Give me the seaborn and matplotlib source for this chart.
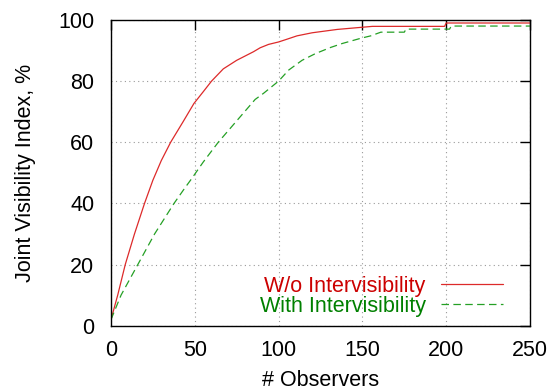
import matplotlib
matplotlib.use("Agg")
import matplotlib.pyplot as plt
import numpy as np
import pandas as pd
import seaborn as sns

# observers vs. joint visibility index (%)
wo_x = [0, 4, 8.5, 14, 20, 25, 30, 35.6, 43, 49.5, 55, 60, 67, 75, 80, 85,
        89, 94, 100, 105, 111, 120, 135, 156, 199, 200, 250]
wo_y = [2, 10, 20, 30, 40, 47.6, 54, 60, 66.7, 72.7, 76.5, 80, 84, 86.8, 88.2, 89.6,
        90.9, 92, 92.8, 93.7, 94.8, 95.8, 96.9, 97.9, 97.9, 99, 99]

with_x = [0, 6, 16, 26, 37.6, 44, 48, 55, 64, 75, 86, 91, 100, 106, 114, 122,
          131, 138, 149, 155, 161, 175, 176, 202, 203, 250]
with_y = [2, 10, 20, 30, 40, 45, 48, 53.5, 60, 67, 74, 76, 80, 83.6, 86.8, 89,
          91, 92.3, 94, 94.8, 96, 96, 97, 97, 98, 98]

x_ticks = [0, 50, 100, 150, 200, 250]
y_ticks = [0, 20, 40, 60, 80, 100]

sns.set_theme(style="white")
plt.rcParams['font.family'] = ['Liberation Sans', 'DejaVu Sans']
plt.rcParams['text.color'] = 'black'
plt.rcParams['axes.labelcolor'] = 'black'

df_wo = pd.DataFrame({'obs': wo_x, 'jvi': wo_y})
df_with = pd.DataFrame({'obs': with_x, 'jvi': with_y})

fig = plt.figure(figsize=(5.55, 3.91), dpi=100)
ax = fig.add_axes([0.2, 0.167, 0.755, 0.782])

red_line, red_text = '#dd2a2a', '#cc0000'
green_line, green_text = '#25a025', '#008000'

sns.lineplot(data=df_wo, x='obs', y='jvi', ax=ax, color=red_line, lw=0.9,
             estimator=None, label='W/o Intervisibility')
sns.lineplot(data=df_with, x='obs', y='jvi', ax=ax, color=green_line, lw=0.9,
             estimator=None, label='With Intervisibility')
ax.lines[1].set_dashes((6, 3.5))

ax.set_xlim(0, 250)
ax.set_ylim(0, 100)
ax.set_xticks(x_ticks)
ax.set_yticks(y_ticks)
ax.grid(True, color='#999999', lw=0.8, linestyle=(0, (1, 3)))

for s in ax.spines.values():
    s.set_visible(True)
    s.set_color('black')
    s.set_linewidth(1.0)

ax.tick_params(direction='in', length=7, width=1.0, top=True, right=True,
               labelsize=15.5, colors='black')
ax.tick_params(axis='y', pad=12)
ax.tick_params(axis='x', pad=10)

ax.set_xlabel('# Observers', fontsize=15.5, labelpad=7)
ax.set_ylabel('Joint Visibility Index, %', fontsize=15.5, labelpad=16)

leg = ax.legend(loc='lower right', bbox_to_anchor=(0.936, 0.03), frameon=False,
                markerfirst=False, handlelength=2.9, handletextpad=0.7,
                labelspacing=-0.05, borderpad=0, borderaxespad=0, fontsize=15.5)
for t, c in zip(leg.get_texts(), [red_text, green_text]):
    t.set_color(c)
leg.get_lines()[1].set_dashes((6, 3.5))

fig.savefig('out.png', dpi=100)
